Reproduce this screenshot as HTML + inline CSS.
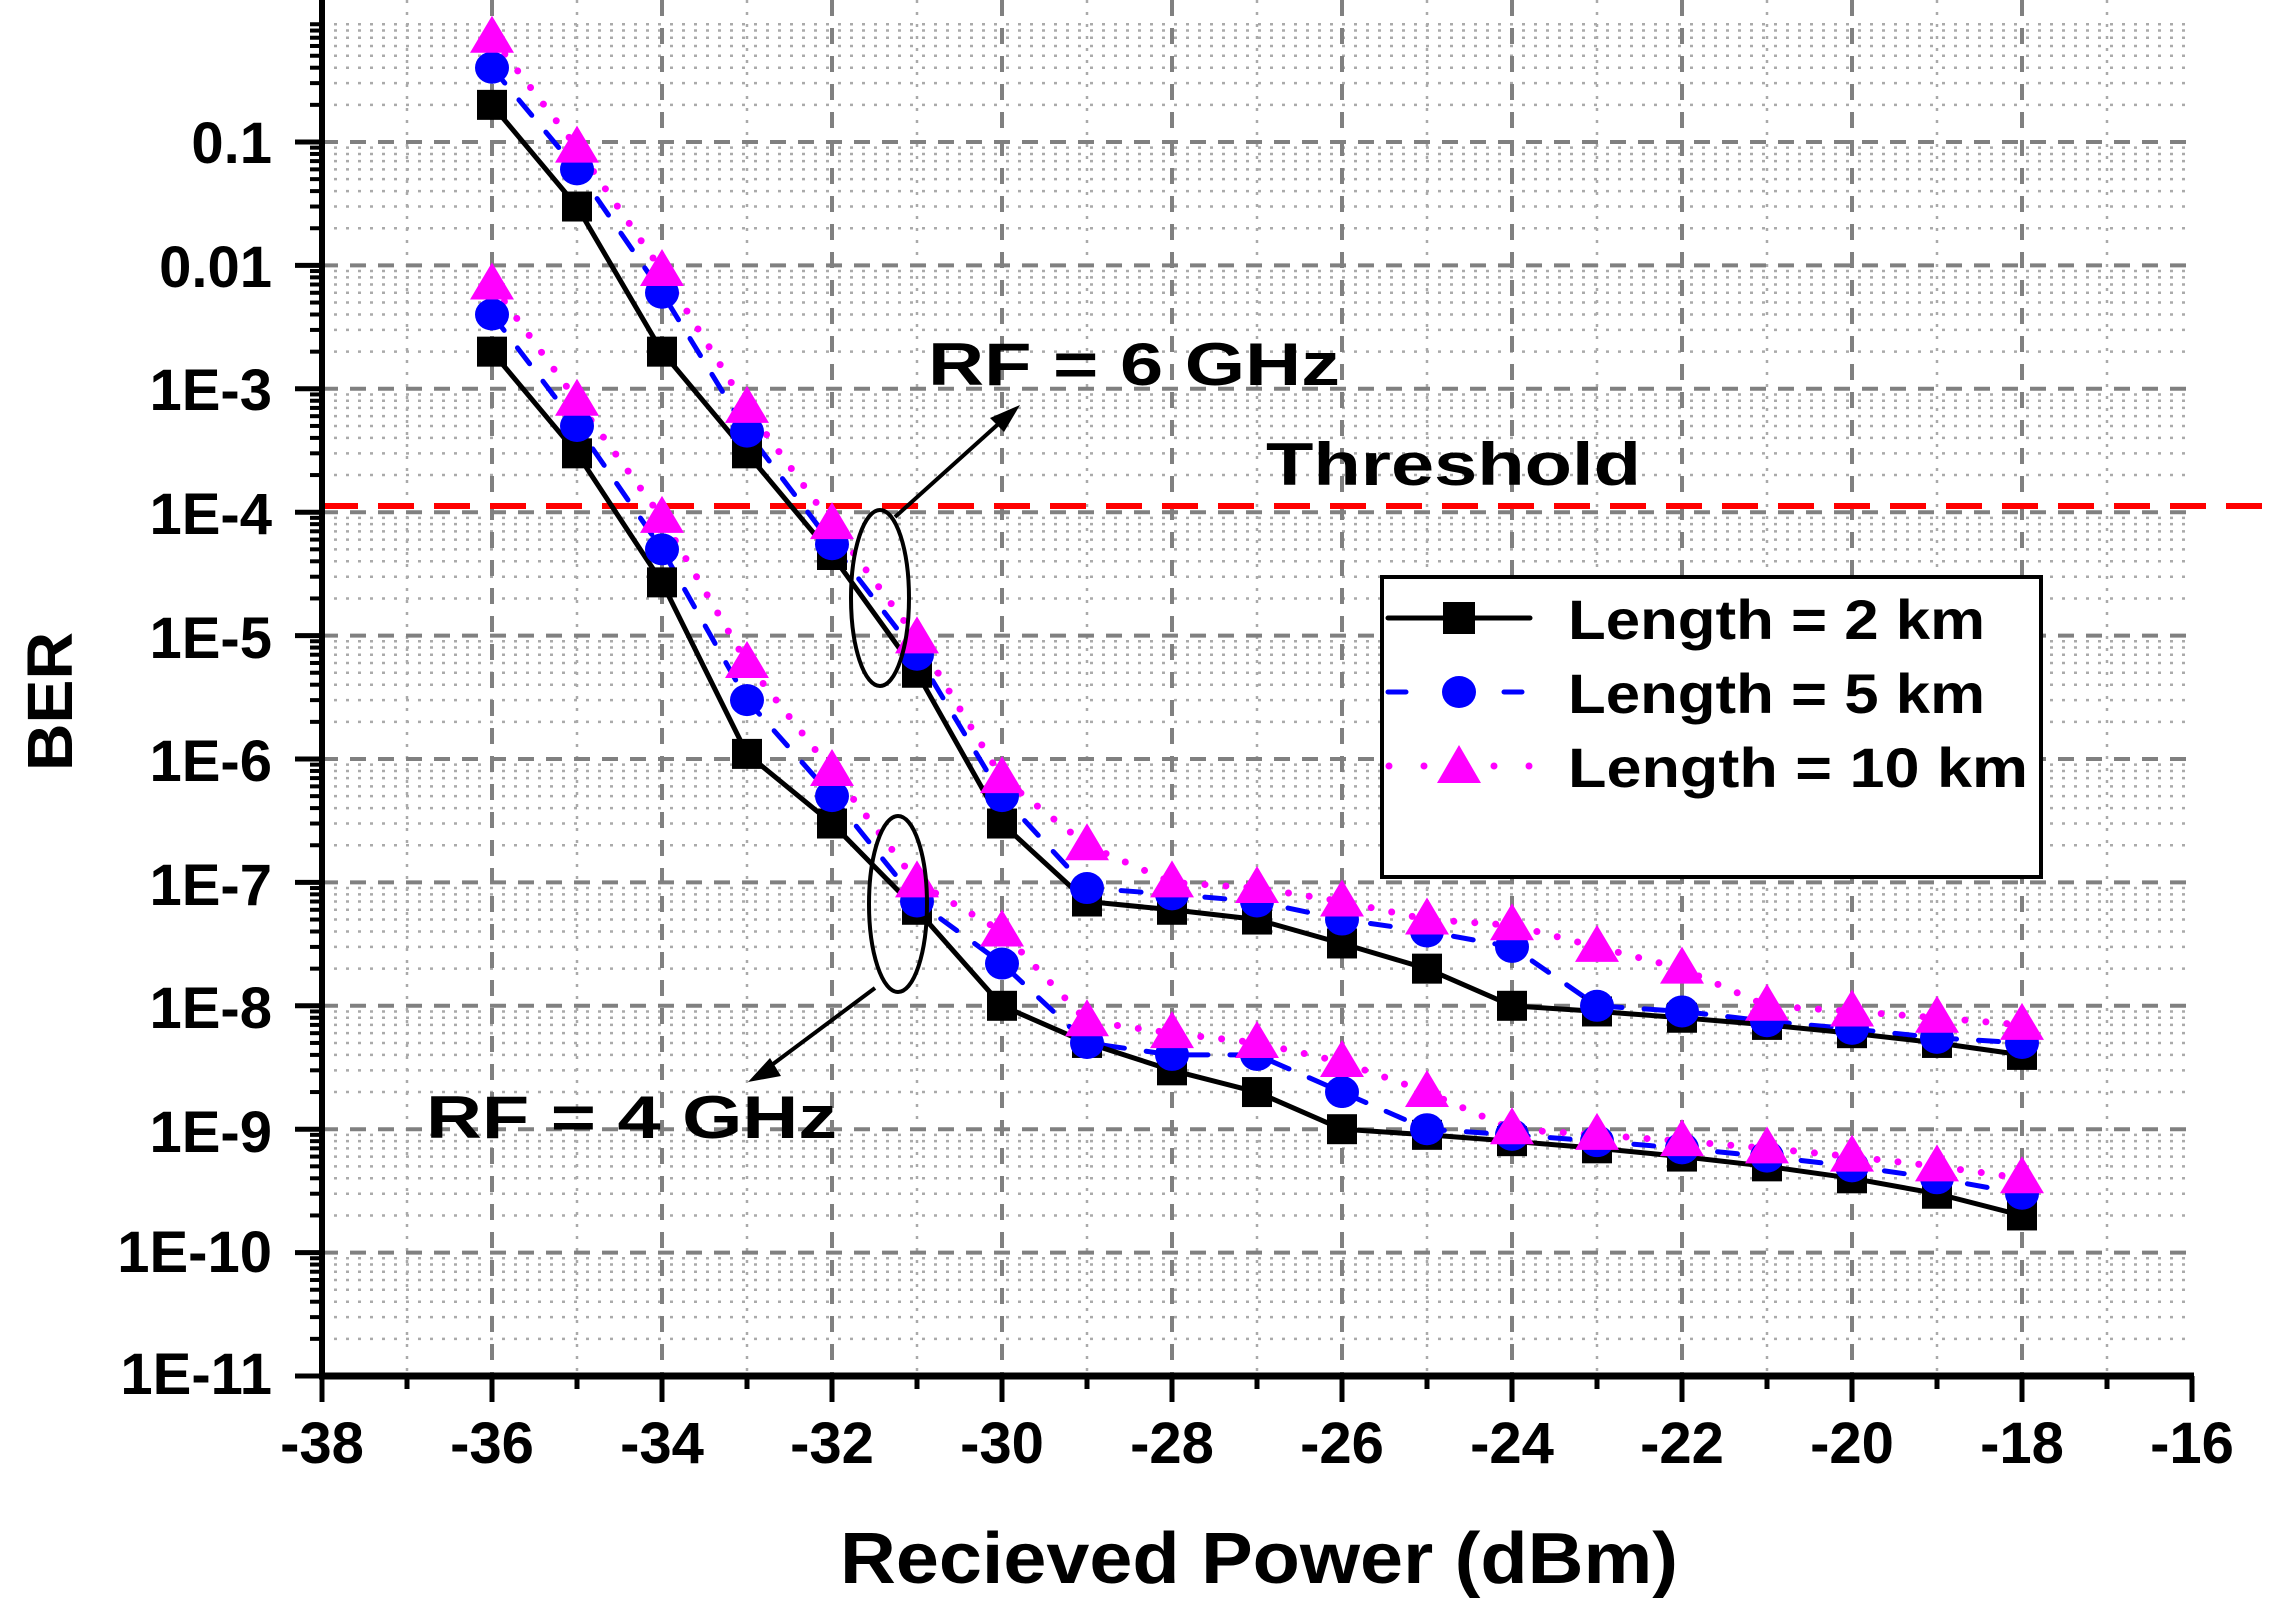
<!DOCTYPE html>
<html><head><meta charset="utf-8"><style>
html,body{margin:0;padding:0;background:#fff;}
svg{display:block;}
text{font-family:"Liberation Sans",Arial,sans-serif;font-weight:bold;fill:#000;}
</style></head><body>
<svg id="s" width="2292" height="1611" viewBox="0 0 2292 1611" xmlns="http://www.w3.org/2000/svg">
<rect width="2292" height="1611" fill="#fff"/>
<g id="grid"></g>
<line x1="322" y1="506" x2="2276" y2="506" stroke="#ff0000" stroke-width="6" stroke-dasharray="36,20"/>
<g id="data"></g>
<g id="axes"></g>
<!-- legend -->
<rect x="1382" y="577" width="659" height="300" fill="#fff" stroke="#000" stroke-width="4"/>
<line x1="1388" y1="618" x2="1530" y2="618" stroke="#000" stroke-width="5" stroke-linecap="round"/>
<rect x="1443" y="602" width="32" height="32" fill="#000"/>
<line x1="1388" y1="692" x2="1530" y2="692" stroke="#0000ff" stroke-width="5" stroke-dasharray="18,40" stroke-linecap="round"/>
<ellipse cx="1459" cy="692" rx="17" ry="16" fill="#0000ff"/>
<line x1="1389" y1="766" x2="1530" y2="766" stroke="#ff00ff" stroke-width="7" stroke-dasharray="0,35" stroke-linecap="round"/>
<polygon points="1437,783 1481,783 1459,745" fill="#ff00ff"/>
<text x="1568" y="639" font-size="56" textLength="417" lengthAdjust="spacingAndGlyphs">Length = 2 km</text>
<text x="1568" y="713" font-size="56" textLength="417" lengthAdjust="spacingAndGlyphs">Length = 5 km</text>
<text x="1568" y="787" font-size="56" textLength="460" lengthAdjust="spacingAndGlyphs">Length = 10 km</text>
<!-- annotations -->
<text x="928" y="385" font-size="60" textLength="412" lengthAdjust="spacingAndGlyphs">RF = 6 GHz</text>
<text x="1266" y="485" font-size="60" textLength="375" lengthAdjust="spacingAndGlyphs">Threshold</text>
<text x="426" y="1138" font-size="60" textLength="411" lengthAdjust="spacingAndGlyphs">RF = 4 GHz</text>
<ellipse cx="880" cy="598" rx="29" ry="88" fill="none" stroke="#000" stroke-width="4"/>
<ellipse cx="898" cy="904" rx="29" ry="88" fill="none" stroke="#000" stroke-width="4"/>
<line x1="895" y1="517" x2="1005" y2="418" stroke="#000" stroke-width="4"/>
<polygon points="1020,405 990,418 1004,432" fill="#000"/>
<line x1="875" y1="988" x2="765" y2="1070" stroke="#000" stroke-width="4"/>
<polygon points="748,1082 770,1058 781,1076" fill="#000"/>
<!-- axis labels -->
<text x="840" y="1583" font-size="72" textLength="838" lengthAdjust="spacingAndGlyphs">Recieved Power (dBm)</text>
<text transform="translate(72,771) rotate(-90)" font-size="64" textLength="139" lengthAdjust="spacingAndGlyphs">BER</text>
<g font-size="58" text-anchor="end">
<text x="272" y="163">0.1</text>
<text x="272" y="287">0.01</text>
<text x="272" y="410">1E-3</text>
<text x="272" y="534">1E-4</text>
<text x="272" y="658">1E-5</text>
<text x="272" y="781">1E-6</text>
<text x="272" y="905">1E-7</text>
<text x="272" y="1028">1E-8</text>
<text x="272" y="1152">1E-9</text>
<text x="272" y="1272">1E-10</text>
<text x="272" y="1394">1E-11</text>
</g>
<g font-size="58" text-anchor="middle">
<text x="322" y="1463">-38</text>
<text x="492" y="1463">-36</text>
<text x="662" y="1463">-34</text>
<text x="832" y="1463">-32</text>
<text x="1002" y="1463">-30</text>
<text x="1172" y="1463">-28</text>
<text x="1342" y="1463">-26</text>
<text x="1512" y="1463">-24</text>
<text x="1682" y="1463">-22</text>
<text x="1852" y="1463">-20</text>
<text x="2022" y="1463">-18</text>
<text x="2192" y="1463">-16</text>
</g>
</svg>
<script>
var NS="http://www.w3.org/2000/svg";
function X(v){return 322+(v+38)*85.0;}
function Y(b){return 142+(-1-Math.log10(b))*123.4;}
function el(p,t,a){var e=document.createElementNS(NS,t);for(var k in a)e.setAttribute(k,a[k]);p.appendChild(e);return e;}
var g=document.getElementById('grid'),ax=document.getElementById('axes'),d=document.getElementById('data');
var top=30,bot=1376,L=322,R=2192;
for(var e=-11;e<=0;e++){for(var m=2;m<=9;m++){var y=Y(m*Math.pow(10,e));if(y<top||y>bot)continue;
el(g,'line',{x1:L,x2:R,y1:y,y2:y,stroke:'#aaa','stroke-width':2.5,'stroke-dasharray':'3,9'});
el(ax,'line',{x1:310,x2:325,y1:y,y2:y,stroke:'#000','stroke-width':4});}}
for(var v=-37;v<=-17;v+=2){el(g,'line',{x1:X(v),x2:X(v),y1:top,y2:bot,stroke:'#aaa','stroke-width':2.5,'stroke-dasharray':'3,9'});
el(ax,'line',{x1:X(v),x2:X(v),y1:bot,y2:bot+13,stroke:'#000','stroke-width':5});}
for(var e=-11;e<=-1;e++){var y=Y(Math.pow(10,e));
if(e>-11)el(g,'line',{x1:L,x2:R,y1:y,y2:y,stroke:'#808080','stroke-width':4,'stroke-dasharray':'16,12'});
el(ax,'line',{x1:295,x2:325,y1:y,y2:y,stroke:'#000','stroke-width':5});}
for(var v=-38;v<=-16;v+=2){if(v>-38&&v<-16)el(g,'line',{x1:X(v),x2:X(v),y1:top,y2:bot,stroke:'#808080','stroke-width':4,'stroke-dasharray':'16,12'});
el(ax,'line',{x1:X(v),x2:X(v),y1:bot,y2:bot+26,stroke:'#000','stroke-width':5});}
el(ax,'line',{x1:L,x2:L,y1:top-2,y2:bot+3,stroke:'#000','stroke-width':6});
el(ax,'line',{x1:L-3,x2:R+2,y1:bot,y2:bot,stroke:'#000','stroke-width':7});
var xs=[];for(var v=-36;v<=-18;v++)xs.push(v);
var S6={a:[0.2,0.03,2e-3,3e-4,4.5e-5,5e-6,3e-7,7e-8,6e-8,5e-8,3.2e-8,2e-8,1e-8,9e-9,8e-9,7e-9,6e-9,5e-9,4e-9],
b:[0.4,0.06,6e-3,4.5e-4,5.5e-5,7e-6,5e-7,9e-8,8e-8,7e-8,5e-8,4e-8,3e-8,1e-8,9e-9,7.5e-9,6.5e-9,5.5e-9,5e-9],
c:[0.7,0.09,9e-3,7e-4,8e-5,9.5e-6,7e-7,2e-7,1e-7,9e-8,7e-8,5e-8,4.5e-8,3e-8,2e-8,1e-8,9e-9,8e-9,7e-9]};
var S4={a:[2e-3,3e-4,2.7e-5,1.1e-6,3e-7,6e-8,1e-8,5e-9,3e-9,2e-9,1e-9,9e-10,8e-10,7e-10,6e-10,5e-10,4e-10,3e-10,2e-10],
b:[4e-3,5e-4,5e-5,3e-6,5e-7,7e-8,2.2e-8,5e-9,4e-9,4e-9,2e-9,1e-9,9e-10,8e-10,7e-10,6e-10,5e-10,4e-10,3e-10],
c:[7e-3,8e-4,9e-5,6e-6,8e-7,1e-7,4e-8,7.5e-9,6e-9,5e-9,3.5e-9,2e-9,1e-9,9e-10,8e-10,7e-10,6e-10,5e-10,4e-10]};
function pts(arr){return arr.map(function(b,i){return X(xs[i]).toFixed(1)+','+Y(b).toFixed(1);}).join(' ');}
[S6,S4].forEach(function(S){
el(d,'polyline',{points:pts(S.c),fill:'none',stroke:'#ff00ff','stroke-width':7,'stroke-dasharray':'0,21','stroke-linecap':'round'});
el(d,'polyline',{points:pts(S.b),fill:'none',stroke:'#0000ff','stroke-width':5,'stroke-dasharray':'20,22','stroke-linecap':'round'});
el(d,'polyline',{points:pts(S.a),fill:'none',stroke:'#000','stroke-width':5});
});
[S6,S4].forEach(function(S){
S.a.forEach(function(b,i){var x=X(xs[i]),y=Y(b);el(d,'rect',{x:x-15,y:y-15,width:30,height:30,fill:'#000'});});
S.b.forEach(function(b,i){var x=X(xs[i]),y=Y(b);el(d,'ellipse',{cx:x,cy:y,rx:17,ry:16,fill:'#0000ff'});});
S.c.forEach(function(b,i){var x=X(xs[i]),y=Y(b);el(d,'polygon',{points:(x-22)+','+(y+15)+' '+(x+22)+','+(y+15)+' '+x+','+(y-22),fill:'#ff00ff'});});
});
</script>
</body></html>
